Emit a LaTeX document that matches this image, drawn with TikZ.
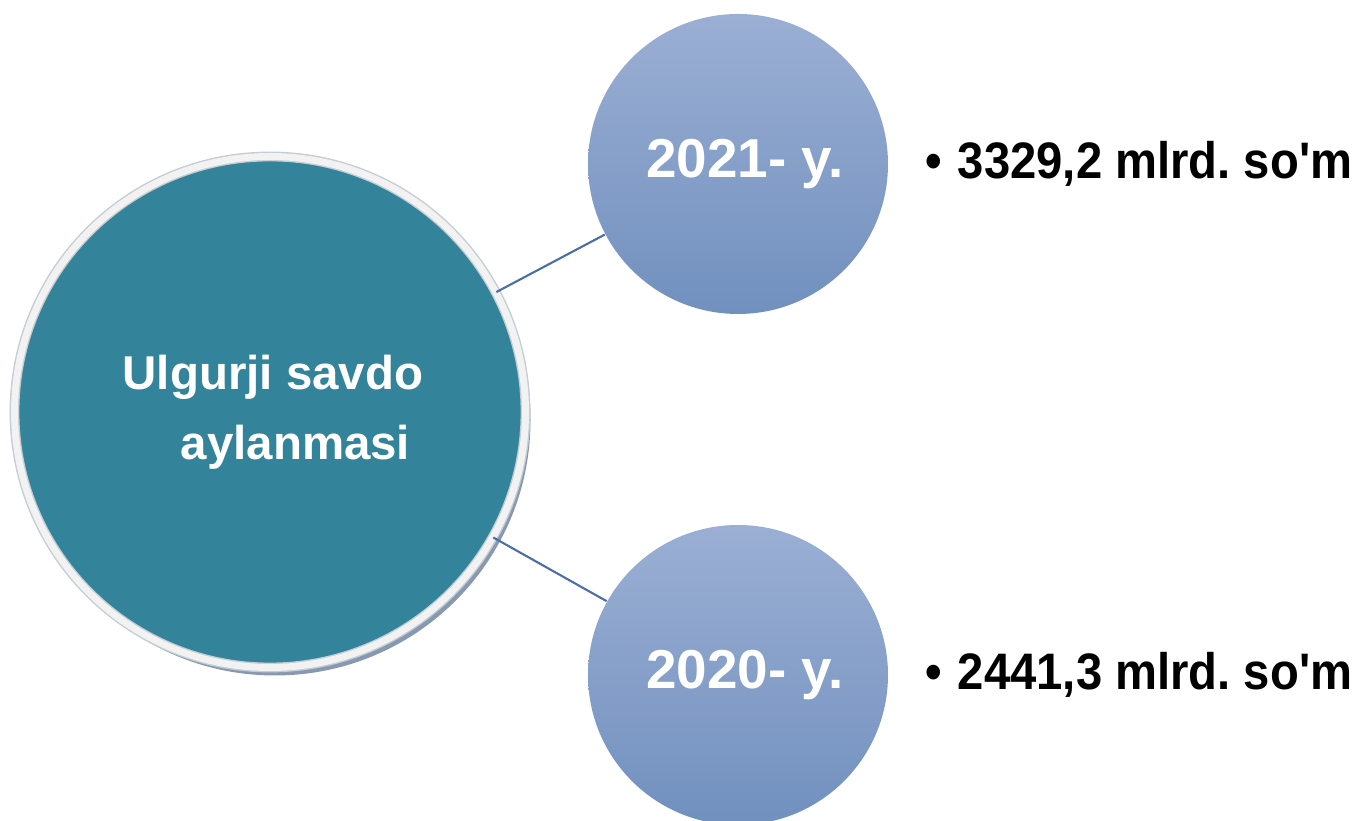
\documentclass[tikz,border=0pt]{standalone}
\usepackage{fontspec}
\setmainfont{Liberation Sans}[Ligatures=TeXOff]
\newfontfamily\amountfont{Liberation Sans}[Ligatures=TeXOff, FakeStretch=0.92]
\frenchspacing
\usetikzlibrary{positioning, shadows}
\definecolor{hubteal}{HTML}{33849A}
\definecolor{ringfill}{HTML}{F2F2F2}
\definecolor{ringedge}{HTML}{C4CCD4}
\definecolor{hubshadow}{HTML}{7A8DA8}
\definecolor{yeartop}{HTML}{9BAFD4}
\definecolor{yearbottom}{HTML}{7190BE}
\definecolor{linkblue}{HTML}{4A6FA8}
\tikzset{
    hub/.style={circle, fill=hubteal, draw=ringedge, double=ringfill, double distance=0.07cm, line width=0.4pt, minimum size=5.11cm, inner sep=0pt, text=white, font=\bfseries\fontsize{13.5}{19.9}\selectfont, align=left, drop shadow={shadow xshift=0.05cm, shadow yshift=-0.08cm, fill=hubshadow, opacity=0.9}},
    year/.style={circle, top color=yeartop, bottom color=yearbottom, draw=none, minimum size=3cm, inner sep=0pt, text=white, font=\bfseries\fontsize{15.6}{18}\selectfont},
    amount/.style={inner sep=0pt, font=\amountfont\bfseries\fontsize{14.6}{16}\selectfont},
    link/.style={draw=linkblue, line width=0.6pt}
}

\begin{document}
\begin{tikzpicture}[
    node distance=0.36cm
]
    \useasboundingbox (0,0) rectangle (13.62,-8.21);

    % 1. MARKAZIY DOIRA
    \node[hub] (hub) at (2.70,-4.12) {\hspace*{0.06cm}Ulgurji savdo\\\hspace*{0.64cm}aylanmasi};

    % 2. YILLAR
    \node[year] (y2021) at (7.38,-1.64) {\hspace*{0.14cm}2021- y.};
    \node[year] (y2020) at (7.38,-6.75) {\hspace*{0.14cm}2020- y.};

    % 3. QIYMATLAR
    \node[amount] (v2021) [right=of y2021] {•\hspace{0.16cm}3329,2 mlrd. so'm};
    \node[amount] (v2020) [right=of y2020] {•\hspace{0.16cm}2441,3 mlrd. so'm};

    % 4. BOG'LANISHLAR
    \draw[link] (hub) -- (y2021);
    \draw[link] (hub) -- (y2020);

\end{tikzpicture}
\end{document}
